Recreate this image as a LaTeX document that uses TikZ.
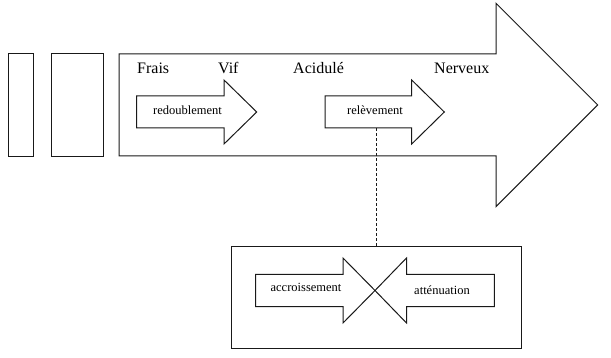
\documentclass[tikz,border=0pt]{standalone}
\usepackage{fontspec}
\setmainfont{Liberation Serif}
\begin{document}
\begin{tikzpicture}[x=1pt,y=-1pt,
  outl/.style={draw=black!90, line width=1pt, line join=miter},
  boxnode/.style={outl, inner sep=0pt},
  bigtxt/.style={font=\fontsize{16}{18}\selectfont, anchor=base west, inner sep=0pt, text=black},
  smalltxt/.style={font=\fontsize{12.5}{14}\selectfont, anchor=base, inner sep=0pt, text=black},
  dashline/.style={draw=black!90, line width=0.9pt, dash pattern=on 3pt off 2pt}]
\useasboundingbox (0,0) rectangle (611,358);
% left rectangles
\node[boxnode, minimum width=25pt, minimum height=103pt] (r1) at (20.8,105.5) {};
\node[boxnode, minimum width=51.6pt, minimum height=103pt] (r2) at (77.5,105.5) {};
% big arrow
\draw[outl] (119,54) -- (496,54) -- (496,3.3) -- (597.7,105) -- (496,206.7) -- (496,156) -- (119,156) -- cycle;
% labels
\node[bigtxt] (frais) at (137,74) {Frais};
\node[bigtxt] (vif) at (218,74) {Vif};
\node[bigtxt] (acid) at (293,74) {Acidulé};
\node[bigtxt] (nerv) at (434,74) {Nerveux};
% small arrows
\draw[outl] (136.7,96) -- (224,96) -- (224,80) -- (256.7,112) -- (224,144) -- (224,128) -- (136.7,128) -- cycle;
\node[smalltxt] (redo) at (187.5,115) {redoublement};
\draw[outl] (325,96) -- (411.7,96) -- (411.7,80) -- (444.3,112) -- (411.7,144) -- (411.7,128) -- (325,128) -- cycle;
\node[smalltxt] (rele) at (375,115) {relèvement};
% bottom box
\node[boxnode, minimum width=290pt, minimum height=102.3pt] (box) at (376.7,297.2) {};
\coordinate (dtop) at (376.7,128.5);
\draw[dashline] (dtop) -- (box.north);
% opposing arrows
\draw[outl] (255.7,274.5) -- (343,274.5) -- (343,258) -- (375,290.5) -- (343,323) -- (343,306.7) -- (255.7,306.7) -- cycle;
\draw[outl] (494.3,274.5) -- (406.5,274.5) -- (406.5,258) -- (375,290.5) -- (406.5,323) -- (406.5,306.7) -- (494.3,306.7) -- cycle;
\node[smalltxt] (accr) at (306,292) {accroissement};
\node[smalltxt] (atte) at (442,295) {atténuation};
\end{tikzpicture}
\end{document}
